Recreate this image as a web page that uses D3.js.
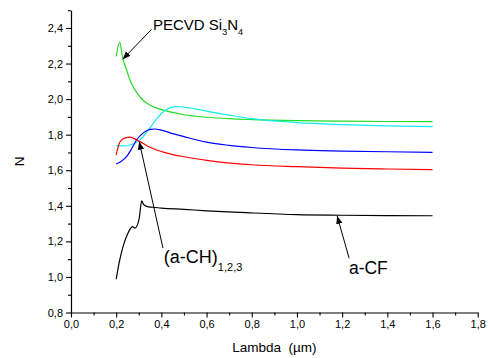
<!DOCTYPE html>
<html><head><meta charset="utf-8">
<script src="https://cdn.jsdelivr.net/npm/d3@7"></script>
<style>
html,body{margin:0;padding:0;background:#fff;}
text{font-family:"Liberation Sans",Arial,sans-serif;fill:#000;}
</style></head>
<body>
<svg id="c" width="488" height="358"></svg>
<script>
// ---- data ----
const xTicksMajor = [0,0.2,0.4,0.6,0.8,1.0,1.2,1.4,1.6,1.8];
const yTicksMajor = [0.8,1.0,1.2,1.4,1.6,1.8,2.0,2.2,2.4];
const xLabel = "Lambda  (µm)";
const yLabel = "N";

const greenX = [0.20,0.215,0.23,0.246,0.26,0.275,0.295,0.318,0.35,0.394,0.45,0.5,0.6,0.7,0.8,1.0,1.2,1.4,1.6];
const greenY = [2.24,2.32,2.225,2.165,2.11,2.07,2.03,1.995,1.965,1.944,1.925,1.912,1.898,1.89,1.885,1.879,1.876,1.874,1.873];

const cyanX = [0.2,0.23,0.26,0.28,0.3,0.32,0.35,0.38,0.41,0.44,0.47,0.5,0.55,0.6,0.7,0.8,1.0,1.2,1.4,1.6];
const cyanY = [1.738,1.737,1.742,1.75,1.765,1.79,1.84,1.89,1.93,1.952,1.958,1.955,1.945,1.932,1.91,1.89,1.868,1.857,1.85,1.845];

const blueX = [0.2,0.22,0.246,0.27,0.29,0.32,0.35,0.37,0.4,0.45,0.5,0.6,0.7,0.8,1.0,1.2,1.4,1.6];
const blueY = [1.635,1.648,1.676,1.725,1.77,1.81,1.83,1.832,1.826,1.806,1.789,1.758,1.74,1.728,1.714,1.708,1.704,1.701];

const redX = [0.2,0.217,0.24,0.261,0.28,0.305,0.34,0.379,0.42,0.5,0.6,0.717,0.8,1.0,1.2,1.4,1.6];
const redY = [1.686,1.76,1.782,1.786,1.778,1.761,1.735,1.714,1.698,1.676,1.656,1.639,1.631,1.62,1.612,1.607,1.603];

const blackX = [0.2,0.21,0.22,0.235,0.25,0.262,0.272,0.283,0.293,0.302,0.313,0.32,0.335,0.36,0.4,0.5,0.6,0.75,1.0,1.2,1.4,1.6];
const blackY = [0.987,1.06,1.12,1.19,1.24,1.27,1.283,1.275,1.29,1.33,1.428,1.41,1.397,1.392,1.387,1.38,1.372,1.363,1.35,1.347,1.345,1.344];

const seriesColors = ["#22dd22","#11eeee","#0000ff","#ff0000","#000000"];

// annotations: text, text anchor (data), arrow from (data) to tip (data)
const annoText = ["PECVD Si", "(a-CH)", "a-CF"];
const annoSub = [["3","N","4"], ["1,2,3"], []];
const annoTextX = [0.363, 0.411, 1.23];
const annoTextY = [2.389, 1.078, 1.017];
const arrowFromX = [0.357, 0.407, 1.231];
const arrowFromY = [2.393, 1.162, 1.105];
const arrowTipX = [0.229, 0.302, 1.178];
const arrowTipY = [2.224, 1.761, 1.343];

// ---- layout ----
const svg = d3.select("#c");
const L = 71, R = 477.7, T = 10.2, B = 312.5;
const x = d3.scaleLinear().domain([0,1.8]).range([L,R]);
const y = d3.scaleLinear().domain([0.8,2.5]).range([B,T]);
const fmt = v => d3.format(".1f")(v).replace(".", ",");

const xMinor = d3.range(0.1,1.8,0.2);
const yMinor = d3.range(0.9,2.51,0.2);

// minor ticks
svg.append("g").attr("transform",`translate(0,${B})`)
  .call(d3.axisBottom(x).tickValues(xMinor).tickSize(3).tickSizeOuter(0).tickFormat(""))
  .call(g=>g.select(".domain").remove());
svg.append("g").attr("transform",`translate(${L},0)`)
  .call(d3.axisLeft(y).tickValues(yMinor).tickSize(3).tickSizeOuter(0).tickFormat(""))
  .call(g=>g.select(".domain").remove());

const gx = svg.append("g").attr("transform",`translate(0,${B})`)
  .call(d3.axisBottom(x).tickValues(xTicksMajor).tickSize(5).tickSizeOuter(0).tickFormat(fmt).tickPadding(3));
const gy = svg.append("g").attr("transform",`translate(${L},0)`)
  .call(d3.axisLeft(y).tickValues(yTicksMajor).tickSize(5).tickSizeOuter(0).tickFormat(fmt).tickPadding(3));
[gx,gy].forEach(g=>{
  g.selectAll("text").style("font-family","'Liberation Sans',Arial,sans-serif").style("font-size","11px");
  g.select(".domain").attr("stroke","#000").attr("stroke-width",1.2);
});
svg.selectAll(".tick line").attr("stroke","#000").attr("stroke-width",1.1);

svg.append("text").attr("x",(L+R)/2).attr("y",352).attr("text-anchor","middle")
  .style("font-size","13.5px").style("white-space","pre").text(xLabel);
svg.append("text").attr("transform",`translate(24,${(T+B)/2}) rotate(-90)`)
  .attr("text-anchor","middle").style("font-size","13.5px").text(yLabel);

// series
const line = d3.line().x(d=>x(d[0])).y(d=>y(d[1])).curve(d3.curveMonotoneX);
const series = [[greenX,greenY],[cyanX,cyanY],[blueX,blueY],[redX,redY],[blackX,blackY]];
series.forEach((s,i)=>{
  const pts = s[0].map((v,j)=>[v,s[1][j]]);
  svg.append("path").datum(pts).attr("d",line).attr("fill","none")
    .attr("stroke",seriesColors[i]).attr("stroke-width",1.2);
});

// arrows
svg.append("defs").append("marker").attr("id","ah").attr("viewBox","0 0 10 10")
  .attr("refX",10).attr("refY",5).attr("markerWidth",8).attr("markerHeight",8)
  .attr("markerUnits","userSpaceOnUse").attr("orient","auto")
  .append("path").attr("d","M0,1 L10,5 L0,9 Z").attr("fill","#000");
annoText.forEach((t,i)=>{
  svg.append("line").attr("x1",x(arrowFromX[i])).attr("y1",y(arrowFromY[i]))
    .attr("x2",x(arrowTipX[i])).attr("y2",y(arrowTipY[i]))
    .attr("stroke","#000").attr("stroke-width",1).attr("marker-end","url(#ah)");
});
// label 0: PECVD Si3N4
{
  const tx = svg.append("text").attr("x",x(annoTextX[0])).attr("y",y(annoTextY[0])).style("font-size","15px");
  tx.append("tspan").text(annoText[0]);
  tx.append("tspan").attr("dy",5).style("font-size","9px").text(annoSub[0][0]);
  tx.append("tspan").attr("dy",-5).text(annoSub[0][1]);
  tx.append("tspan").attr("dy",5).style("font-size","9px").text(annoSub[0][2]);
}
{
  const tx = svg.append("text").attr("x",x(annoTextX[1])).attr("y",y(annoTextY[1])).style("font-size","18px");
  tx.append("tspan").text(annoText[1]);
  tx.append("tspan").attr("dy",8).style("font-size","11px").text(annoSub[1][0]);
}
svg.append("text").attr("x",x(annoTextX[2])).attr("y",y(annoTextY[2])).style("font-size","17.5px").text(annoText[2]);
</script>
</body></html>
